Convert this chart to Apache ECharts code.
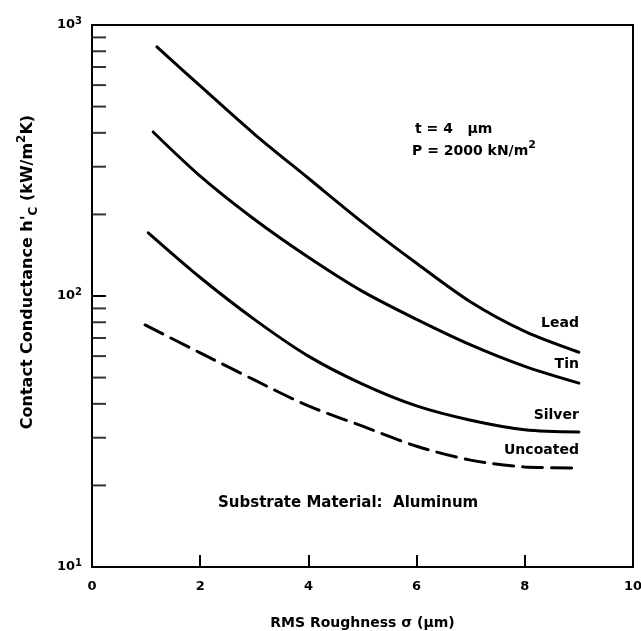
<!DOCTYPE html>
<html>
<head>
<meta charset="UTF-8">
<title>Contact Conductance vs RMS Roughness</title>
<script src="https://cdn.jsdelivr.net/npm/echarts@6.0.0/dist/echarts.min.js"></script>
<style>
    body { margin: 0; background: #fff; }
    #chart { width: 641px; height: 631px; }
</style>
</head>
<body>
<div id="chart"></div>
<script>
    // RMS roughness sigma (um) and contact conductance h'c (kW/m2K)
    const leadSigma = [1.2, 2, 3, 4, 5, 6, 7, 8, 9];
    const leadH = [830, 596, 396, 272, 187, 132, 95, 74, 62];
    const tinSigma = [1.13, 2, 3, 4, 5, 6, 7, 8, 9];
    const tinH = [403, 277, 192, 139, 104, 82, 66, 55, 47.7];
    const silverSigma = [1.04, 2, 3, 4, 5, 6, 7, 8, 9];
    const silverH = [171, 117, 82, 60, 47.3, 39.3, 34.8, 32.1, 31.5];
    const uncoatedSigma = [0.98, 2, 3, 4, 5, 6, 7, 8, 9];
    const uncoatedH = [78.2, 61.7, 49, 39.3, 33.1, 27.9, 24.8, 23.4, 23.2];

    // minor log ticks on the left axis
    const minorTickValues = [20, 30, 40, 50, 60, 70, 80, 90, 200, 300, 400, 500, 600, 700, 800, 900];
    const xTicks = [0, 2, 4, 6, 8, 10];

    const FONT = '"DejaVu Sans", Arial, sans-serif';

    function pairs(xs, ys) {
        return xs.map((x, i) => [x, ys[i]]);
    }

    function curve(name, xs, ys, dashed, labelOffset) {
        return {
            name: name,
            type: 'line',
            data: pairs(xs, ys),
            smooth: 0.3,
            symbol: 'none',
            lineStyle: { color: '#000', width: 3, type: dashed ? [20, 9] : 'solid', cap: 'round' },
            endLabel: {
                show: true,
                formatter: '{a}',
                align: 'right',
                distance: 0,
                offset: labelOffset,
                color: '#000',
                fontFamily: FONT,
                fontWeight: 'bold',
                fontSize: 14
            },
            silent: true
        };
    }

    const chart = echarts.init(document.getElementById('chart'));

    const option = {
        animation: false,
        backgroundColor: '#fff',
        grid: {
            left: 92, right: 8, top: 25, bottom: 64,
            containLabel: false,
            outerBoundsMode: 'none',
            show: true, borderColor: '#000', borderWidth: 2
        },
        xAxis: {
            type: 'value',
            min: xTicks[0],
            max: xTicks[xTicks.length - 1],
            interval: 2,
            name: 'RMS Roughness σ (µm)',
            nameLocation: 'middle',
            nameGap: 49,
            nameTextStyle: { color: '#000', fontFamily: FONT, fontWeight: 'bold', fontSize: 14 },
            axisLine: { lineStyle: { color: '#000', width: 2 } },
            axisTick: { inside: true, length: 12, lineStyle: { color: '#000', width: 2 } },
            axisLabel: { color: '#000', fontFamily: FONT, fontWeight: 'bold', fontSize: 13, margin: 13 },
            splitLine: { show: false }
        },
        yAxis: {
            type: 'log',
            logBase: 10,
            min: 10,
            max: 1000,
            name: "Contact Conductance h'{sub|C} (kW/m{sup|2}K)",
            nameLocation: 'middle',
            nameGap: 52,
            nameRotate: 90,
            nameTextStyle: {
                color: '#000', fontFamily: FONT, fontWeight: 'bold', fontSize: 16, lineHeight: 24,
                padding: [0, 0, 0, 48],
                rich: {
                    sub: { fontFamily: FONT, fontWeight: 'bold', fontSize: 12, lineHeight: 12, verticalAlign: 'bottom' },
                    sup: { fontFamily: FONT, fontWeight: 'bold', fontSize: 12, lineHeight: 12, verticalAlign: 'top' }
                }
            },
            axisLine: { lineStyle: { color: '#000', width: 2 } },
            axisTick: { inside: true, length: 14, lineStyle: { color: '#000', width: 2 } },
            axisLabel: {
                color: '#000', fontFamily: FONT, fontWeight: 'bold', fontSize: 13, lineHeight: 18, margin: 10,
                formatter: v => '10{sup|' + Math.round(Math.log10(v)) + '}',
                rich: {
                    sup: { fontFamily: FONT, fontWeight: 'bold', fontSize: 10, lineHeight: 10, verticalAlign: 'top' }
                }
            },
            splitLine: { show: false }
        },
        graphic: [
            {
                type: 'text', left: 415, top: 122,
                style: { text: 't = 4   µm', fill: '#000', font: 'bold 14px ' + FONT }
            },
            {
                type: 'text', left: 412, top: 140,
                style: {
                    text: 'P = 2000 kN/m{sup|2}', fill: '#000', font: 'bold 14px ' + FONT, lineHeight: 22,
                    rich: { sup: { fontFamily: FONT, fontWeight: 'bold', fontSize: 11, lineHeight: 11, verticalAlign: 'top' } }
                }
            },
            {
                type: 'text', left: 218, top: 496,
                style: { text: 'Substrate Material:  Aluminum', fill: '#000', font: 'bold 15px ' + FONT }
            }
        ],
        series: [
            curve('Lead', leadSigma, leadH, false, [0, -29]),
            curve('Tin', tinSigma, tinH, false, [0, -19]),
            curve('Silver', silverSigma, silverH, false, [0, -17]),
            curve('Uncoated', uncoatedSigma, uncoatedH, true, [0, -18]),
            {
                name: 'minor ticks',
                type: 'scatter',
                data: minorTickValues.map(v => [0, v]),
                symbol: 'rect',
                symbolSize: [14, 2],
                symbolOffset: [7, 0],
                itemStyle: { color: '#000' },
                clip: false,
                silent: true
            }
        ]
    };

    chart.setOption(option);
    window.addEventListener('resize', () => chart.resize());
</script>
</body>
</html>
